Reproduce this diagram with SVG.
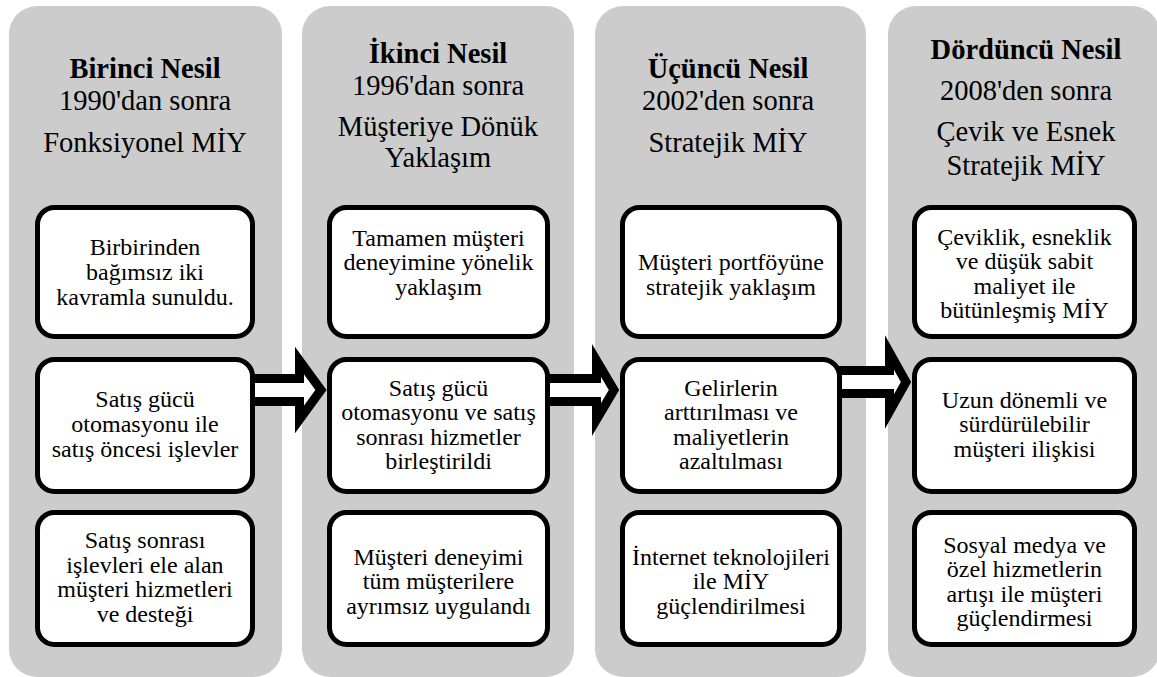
<svg xmlns="http://www.w3.org/2000/svg" width="1157" height="677" viewBox="0 0 1157 677">
<style>
.col{fill:#cccccc}
.box{fill:#ffffff;stroke:#000000;stroke-width:5}
.arr{fill:#ffffff;stroke:#000000;stroke-width:9;stroke-linejoin:miter;stroke-miterlimit:10}
text{font-family:"Liberation Serif","Times New Roman",serif;fill:#000000;text-anchor:middle}
.h{font-size:28.5px}
.hb{font-size:28.5px;font-weight:bold}
.t{font-size:24px}
</style>
<rect width="1157" height="677" fill="#ffffff"/>
<g id="col1">
<rect class="col" x="9" y="6" width="273" height="671" rx="28"/>
<text class="hb" x="145" y="78">Birinci Nesil</text>
<text class="h" x="145" y="110">1990'dan sonra</text>
<text class="h" x="145" y="152">Fonksiyonel MİY</text>
</g>
<g id="col2">
<rect class="col" x="302" y="6" width="272" height="671" rx="28"/>
<text class="hb" x="438" y="63">İkinci Nesil</text>
<text class="h" x="438" y="95">1996'dan sonra</text>
<text class="h" x="438" y="136">Müşteriye Dönük</text>
<text class="h" x="438" y="167">Yaklaşım</text>
</g>
<g id="col3">
<rect class="col" x="595" y="6" width="271" height="671" rx="28"/>
<text class="hb" x="728" y="78">Üçüncü Nesil</text>
<text class="h" x="728" y="110">2002'den sonra</text>
<text class="h" x="728" y="152">Stratejik MİY</text>
</g>
<g id="col4">
<rect class="col" x="888" y="6" width="272" height="671" rx="28"/>
<text class="hb" x="1026" y="59">Dördüncü Nesil</text>
<text class="h" x="1026" y="100">2008'den sonra</text>
<text class="h" x="1026" y="141">Çevik ve Esnek</text>
<text class="h" x="1026" y="175">Stratejik MİY</text>
</g>
<g id="connectors">
<polygon class="arr" points="250,378.5 299.5,378.5 299.5,360.5 321,390 299.5,419.5 299.5,401.5 250,401.5"/>
<polygon class="arr" points="545,378.5 596.5,378.5 596.5,360.5 614,390 596.5,419.5 596.5,401.5 545,401.5"/>
<polygon class="arr" points="837,370.5 889.5,370.5 889.5,352.5 906,382 889.5,411.5 889.5,393.5 837,393.5"/>
</g>
<g id="c1b1">
<rect class="box" x="37.5" y="207.5" width="215" height="129" rx="17"/>
<text class="t"><tspan x="145" y="255">Birbirinden</tspan><tspan x="145" y="280">bağımsız iki</tspan><tspan x="145" y="305">kavramla sunuldu.</tspan></text>
</g>
<g id="c1b2">
<rect class="box" x="37.5" y="359.5" width="215" height="132" rx="17"/>
<text class="t"><tspan x="145" y="407">Satış gücü</tspan><tspan x="145" y="432">otomasyonu ile</tspan><tspan x="145" y="457">satış öncesi işlevler</tspan></text>
</g>
<g id="c1b3">
<rect class="box" x="37.5" y="512.5" width="215" height="132" rx="17"/>
<text class="t"><tspan x="145" y="548">Satış sonrası</tspan><tspan x="145" y="573">işlevleri ele alan</tspan><tspan x="145" y="597">müşteri hizmetleri</tspan><tspan x="145" y="622">ve desteği</tspan></text>
</g>
<g id="c2b1">
<rect class="box" x="329.5" y="207.5" width="218" height="129" rx="17"/>
<text class="t"><tspan x="438.5" y="246">Tamamen müşteri</tspan><tspan x="438.5" y="270">deneyimine yönelik</tspan><tspan x="438.5" y="295">yaklaşım</tspan></text>
</g>
<g id="c2b2">
<rect class="box" x="329.5" y="359.5" width="218" height="132" rx="17"/>
<text class="t"><tspan x="438.5" y="396">Satış gücü</tspan><tspan x="438.5" y="420">otomasyonu ve satış</tspan><tspan x="438.5" y="445">sonrası hizmetler</tspan><tspan x="438.5" y="469">birleştirildi</tspan></text>
</g>
<g id="c2b3">
<rect class="box" x="329.5" y="512.5" width="218" height="132" rx="17"/>
<text class="t"><tspan x="438.5" y="565">Müşteri deneyimi</tspan><tspan x="438.5" y="589">tüm müşterilere</tspan><tspan x="438.5" y="614">ayrımsız uygulandı</tspan></text>
</g>
<g id="c3b1">
<rect class="box" x="622.5" y="207.5" width="217" height="129" rx="17"/>
<text class="t"><tspan x="731" y="270">Müşteri portföyüne</tspan><tspan x="731" y="295">stratejik yaklaşım</tspan></text>
</g>
<g id="c3b2">
<rect class="box" x="622.5" y="359.5" width="217" height="132" rx="17"/>
<text class="t"><tspan x="731" y="396">Gelirlerin</tspan><tspan x="731" y="420">arttırılması ve</tspan><tspan x="731" y="445">maliyetlerin</tspan><tspan x="731" y="469">azaltılması</tspan></text>
</g>
<g id="c3b3">
<rect class="box" x="622.5" y="512.5" width="217" height="132" rx="17"/>
<text class="t"><tspan x="731" y="565">İnternet teknolojileri</tspan><tspan x="731" y="589">ile MİY</tspan><tspan x="731" y="614">güçlendirilmesi</tspan></text>
</g>
<g id="c4b1">
<rect class="box" x="914.5" y="207.5" width="220" height="129" rx="17"/>
<text class="t"><tspan x="1024.5" y="245">Çeviklik, esneklik</tspan><tspan x="1024.5" y="269">ve düşük sabit</tspan><tspan x="1024.5" y="294">maliyet ile</tspan><tspan x="1024.5" y="318">bütünleşmiş MİY</tspan></text>
</g>
<g id="c4b2">
<rect class="box" x="914.5" y="359.5" width="220" height="132" rx="17"/>
<text class="t"><tspan x="1024.5" y="408">Uzun dönemli ve</tspan><tspan x="1024.5" y="432">sürdürülebilir</tspan><tspan x="1024.5" y="457">müşteri ilişkisi</tspan></text>
</g>
<g id="c4b3">
<rect class="box" x="914.5" y="512.5" width="220" height="132" rx="17"/>
<text class="t"><tspan x="1024.5" y="553">Sosyal medya ve</tspan><tspan x="1024.5" y="577">özel hizmetlerin</tspan><tspan x="1024.5" y="602">artışı ile müşteri</tspan><tspan x="1024.5" y="626">güçlendirmesi</tspan></text>
</g>
</svg>
